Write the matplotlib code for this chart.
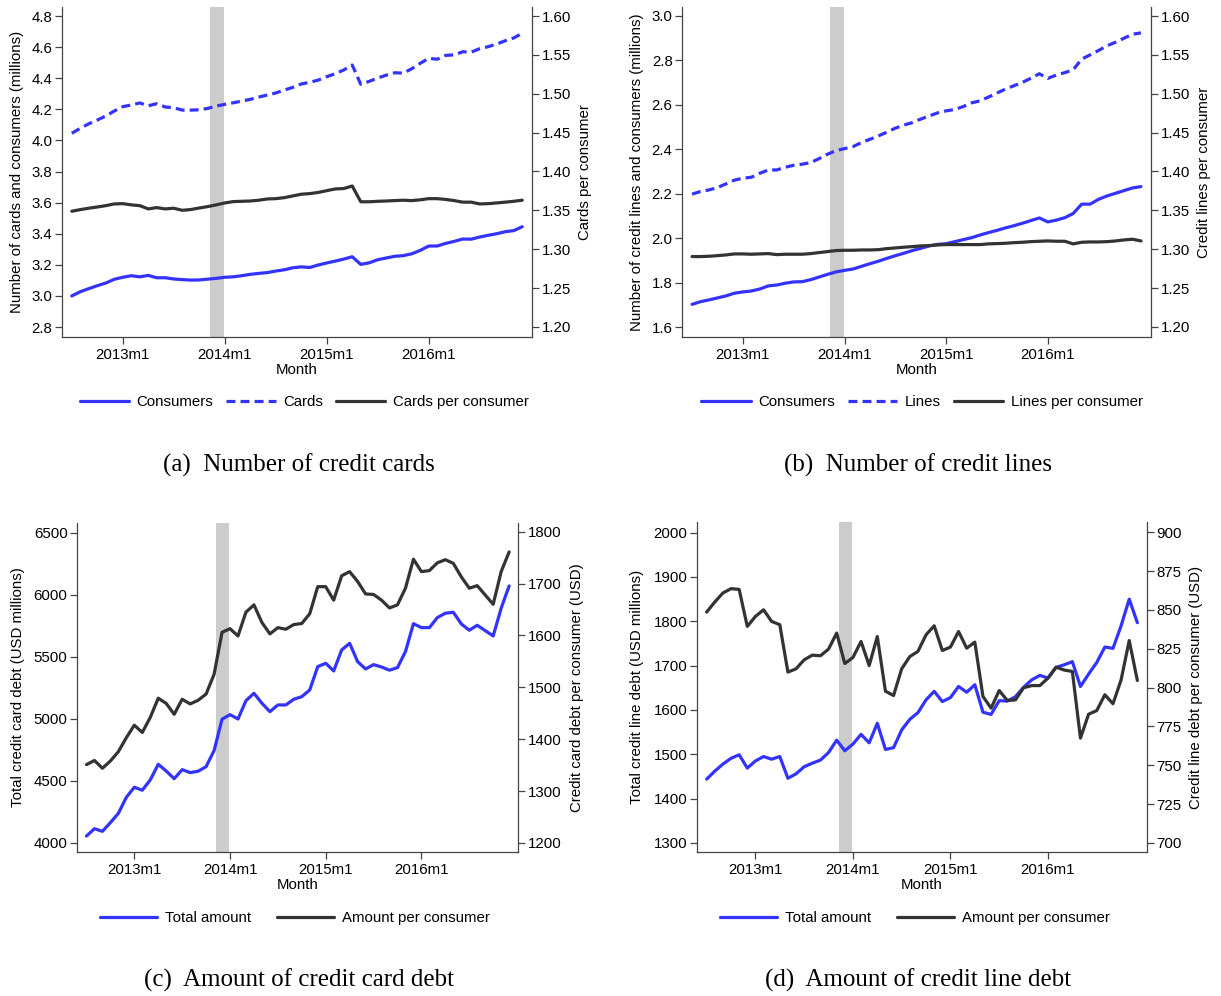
import numpy as np
import matplotlib
matplotlib.use("Agg")
import matplotlib.pyplot as plt
from matplotlib.lines import Line2D

# ---------------- data (monthly, 2012m7 .. 2016m12) ----------------
months = np.arange(54)  # 0 = 2012m7
xtick_pos = [6, 18, 30, 42]
xtick_labels = ["2013m1", "2014m1", "2015m1", "2016m1"]
event_span = (16.25, 17.9)

a_consumers = [3.000, 3.027, 3.047, 3.066, 3.083, 3.107, 3.120, 3.130, 3.123, 3.132,
               3.117, 3.117, 3.109, 3.105, 3.102, 3.103, 3.108, 3.113, 3.120, 3.123,
               3.130, 3.139, 3.145, 3.150, 3.160, 3.168, 3.181, 3.187, 3.183, 3.199,
               3.212, 3.224, 3.237, 3.252, 3.203, 3.213, 3.233, 3.244, 3.255, 3.259,
               3.271, 3.293, 3.321, 3.321, 3.338, 3.351, 3.366, 3.365, 3.379, 3.390,
               3.400, 3.413, 3.420, 3.445]
a_cards = [4.046, 4.078, 4.107, 4.131, 4.157, 4.189, 4.217, 4.228, 4.241, 4.223,
           4.236, 4.215, 4.210, 4.195, 4.195, 4.197, 4.206, 4.221, 4.232, 4.242,
           4.253, 4.264, 4.279, 4.292, 4.305, 4.324, 4.341, 4.363, 4.374, 4.388,
           4.410, 4.429, 4.453, 4.485, 4.361, 4.380, 4.401, 4.420, 4.435, 4.433,
           4.461, 4.496, 4.528, 4.522, 4.547, 4.550, 4.570, 4.568, 4.590, 4.603,
           4.620, 4.641, 4.659, 4.689]
a_per = [1.3488, 1.3509, 1.3527, 1.3543, 1.3560, 1.3582, 1.3586, 1.3570, 1.3560, 1.3518,
         1.3535, 1.3518, 1.3527, 1.3500, 1.3510, 1.3530, 1.3548, 1.3570, 1.3595, 1.3612,
         1.3616, 1.3620, 1.3630, 1.3646, 1.3650, 1.3663, 1.3685, 1.3707, 1.3715, 1.3730,
         1.3753, 1.3775, 1.3780, 1.3813, 1.3610, 1.3610, 1.3616, 1.3620, 1.3625, 1.3630,
         1.3625, 1.3635, 1.3650, 1.3650, 1.3640, 1.3625, 1.3605, 1.3605, 1.3582, 1.3586,
         1.3595, 1.3605, 1.3616, 1.3630]

b_consumers = [1.702, 1.714, 1.722, 1.731, 1.740, 1.752, 1.758, 1.762, 1.771, 1.785,
               1.789, 1.797, 1.803, 1.804, 1.813, 1.825, 1.837, 1.848, 1.855, 1.861,
               1.873, 1.885, 1.896, 1.909, 1.921, 1.932, 1.944, 1.954, 1.965, 1.972,
               1.975, 1.984, 1.993, 2.002, 2.014, 2.025, 2.035, 2.046, 2.056, 2.067,
               2.079, 2.091, 2.073, 2.081, 2.092, 2.111, 2.153, 2.153, 2.175, 2.190,
               2.202, 2.214, 2.226, 2.232]
b_lines = [2.198, 2.210, 2.217, 2.228, 2.244, 2.261, 2.270, 2.274, 2.292, 2.307,
           2.307, 2.319, 2.328, 2.333, 2.340, 2.358, 2.378, 2.394, 2.403, 2.412,
           2.430, 2.445, 2.460, 2.477, 2.495, 2.509, 2.520, 2.536, 2.550, 2.564,
           2.573, 2.579, 2.592, 2.609, 2.618, 2.635, 2.653, 2.671, 2.686, 2.701,
           2.720, 2.740, 2.719, 2.734, 2.745, 2.758, 2.806, 2.825, 2.845, 2.866,
           2.882, 2.900, 2.918, 2.924]
b_per = [1.2905, 1.2905, 1.2909, 1.2917, 1.2926, 1.2939, 1.2939, 1.2935, 1.2939, 1.2943,
         1.2930, 1.2935, 1.2935, 1.2935, 1.2943, 1.2956, 1.2969, 1.2982, 1.2986, 1.2986,
         1.2990, 1.2990, 1.2994, 1.3007, 1.3016, 1.3025, 1.3033, 1.3042, 1.3046, 1.3055,
         1.3059, 1.3059, 1.3059, 1.3059, 1.3059, 1.3068, 1.3072, 1.3076, 1.3084, 1.3089,
         1.3097, 1.3102, 1.3106, 1.3102, 1.3102, 1.3068, 1.3089, 1.3093, 1.3093, 1.3097,
         1.3106, 1.3119, 1.3128, 1.3106]

c_total = [4056, 4115, 4094, 4164, 4239, 4368, 4449, 4425, 4508, 4634,
           4580, 4518, 4591, 4567, 4578, 4615, 4744, 4997, 5034, 4999,
           5147, 5206, 5126, 5058, 5112, 5112, 5158, 5179, 5233, 5421,
           5448, 5386, 5555, 5609, 5461, 5402, 5437, 5418, 5392, 5413,
           5542, 5767, 5735, 5735, 5816, 5851, 5859, 5765, 5714, 5754,
           5711, 5668, 5891, 6071]
c_per = [1351, 1359, 1344, 1358, 1376, 1403, 1427, 1413, 1442, 1479,
         1469, 1448, 1477, 1468, 1475, 1487, 1525, 1606, 1613, 1599,
         1645, 1659, 1625, 1603, 1615, 1612, 1621, 1623, 1642, 1694,
         1694, 1668, 1715, 1723, 1704, 1680, 1679, 1668, 1653, 1659,
         1691, 1747, 1723, 1725, 1740, 1746, 1739, 1713, 1691, 1696,
         1678, 1660, 1723, 1761]

d_total = [1444, 1462, 1478, 1491, 1499, 1469, 1485, 1495, 1489, 1495,
           1446, 1456, 1472, 1480, 1487, 1504, 1532, 1508, 1523, 1545,
           1526, 1570, 1511, 1515, 1555, 1579, 1594, 1623, 1642, 1619,
           1628, 1653, 1640, 1657, 1595, 1590, 1621, 1620, 1630, 1651,
           1668, 1678, 1672, 1696, 1702, 1709, 1653, 1681, 1707, 1742,
           1739, 1790, 1850, 1797]
d_per = [848.6, 855.1, 860.9, 863.7, 863.2, 839.4, 845.8, 850.1, 842.6, 840.5,
         810.0, 812.1, 817.9, 820.9, 820.5, 824.8, 835.1, 815.5, 819.4, 829.7,
         814.2, 832.9, 797.7, 794.9, 812.1, 820.0, 823.3, 834.0, 839.8, 823.9,
         826.1, 836.1, 825.4, 829.3, 794.3, 786.8, 798.1, 791.7, 792.1, 799.9,
         801.3, 801.3, 806.1, 813.2, 811.3, 810.4, 767.5, 782.9, 785.2, 795.4,
         789.6, 805.0, 830.3, 804.6]

# ---------------- style ----------------
W, H = 1221, 996
BLUE = "#3333ff"
DARK = "#333333"
BAND = "#cccccc"
AXC = "#444444"
LW = 2.3
DASH = (2.8, 1.6)
FS = 10.8
plt.rcParams["font.family"] = ["Liberation Sans", "DejaVu Sans"]

fig = plt.figure(figsize=(W / 100, H / 100), dpi=100)


def fx(px):
    return px / W


def fy(py):
    return 1 - py / H


def make_panel(left, right, top, bottom, ylim_l, yt_l, fmt_l, ylim_r, yt_r, fmt_r,
               lab_l, lab_l_x, lab_r, lab_r_x, series_l, series_r):
    ax = fig.add_axes([fx(left), fy(bottom), fx(right - left), (bottom - top) / H])
    ax2 = ax.twinx()
    ax.axvspan(*event_span, color=BAND, lw=0, zorder=0)
    handles = []
    for vals, dashed, label in series_l:
        if dashed:
            ln, = ax.plot(months, vals, color=BLUE, lw=LW, dashes=DASH, label=label)
        else:
            ln, = ax.plot(months, vals, color=BLUE, lw=LW, solid_capstyle="round",
                          label=label)
        handles.append(ln)
    for vals, label in series_r:
        ln, = ax2.plot(months, vals, color=DARK, lw=LW, solid_capstyle="round",
                       label=label)
        handles.append(ln)
    ax.set_xlim(-1.15, 54.15)
    ax.set_ylim(*ylim_l)
    ax2.set_ylim(*ylim_r)
    ax.set_xticks(xtick_pos)
    ax.set_xticklabels(xtick_labels)
    ax.set_yticks(yt_l)
    ax.set_yticklabels([fmt_l.format(v) for v in yt_l])
    ax2.set_yticks(yt_r)
    ax2.set_yticklabels([fmt_r.format(v) for v in yt_r])
    for a in (ax, ax2):
        a.spines["top"].set_visible(False)
        for s in a.spines.values():
            s.set_color(AXC)
            s.set_linewidth(0.9)
        a.tick_params(direction="out", length=5, width=0.9, color=AXC,
                      labelsize=FS, labelcolor="black")
    ax.tick_params(axis="x", pad=3)
    ax.tick_params(axis="y", pad=2)
    ax2.tick_params(axis="y", pad=2)
    ax2.spines["left"].set_visible(False)
    ax2.spines["bottom"].set_visible(False)
    ax.spines["right"].set_visible(False)
    cy = (top + bottom) / 2
    fig.text(fx(lab_l_x), fy(cy), lab_l, rotation=90, ha="center", va="center",
             fontsize=FS)
    fig.text(fx(lab_r_x), fy(cy), lab_r, rotation=90, ha="center", va="center",
             fontsize=FS)
    fig.text(fx((left + right) / 2), fy(bottom + 33), "Month", ha="center",
             va="center", fontsize=FS)
    return handles


# (a)
h_a = make_panel(62, 532, 7, 337, (2.736, 4.858), np.arange(2.8, 4.81, 0.2), "{:.1f}",
                 (1.187, 1.6116), np.arange(1.20, 1.601, 0.05), "{:.2f}",
                 "Number of cards and consumers (millions)", 17,
                 "Cards per consumer", 585,
                 [(a_consumers, False, "Consumers"), (a_cards, True, "Cards")],
                 [(a_per, "Cards per consumer")])
# (b)
h_b = make_panel(682.3, 1150.7, 7, 337, (1.555, 3.0405), np.arange(1.6, 3.01, 0.2), "{:.1f}",
                 (1.187, 1.6116), np.arange(1.20, 1.601, 0.05), "{:.2f}",
                 "Number of credit lines and consumers (millions)", 637,
                 "Credit lines per consumer", 1204,
                 [(b_consumers, False, "Consumers"), (b_lines, True, "Lines")],
                 [(b_per, "Lines per consumer")])
# (c)
h_c = make_panel(77.3, 518.3, 522.5, 852.3, (3925, 6582), np.arange(4000, 6501, 500), "{:.0f}",
                 (1182, 1817.7), np.arange(1200, 1801, 100), "{:.0f}",
                 "Total credit card debt (USD millions)", 18,
                 "Credit card debt per consumer (USD)", 577,
                 [(c_total, False, "Total amount")],
                 [(c_per, "Amount per consumer")])
# (d)
h_d = make_panel(697.3, 1146.7, 522, 852.3, (1279, 2024), np.arange(1300, 2001, 100), "{:.0f}",
                 (694, 906.6), np.arange(700, 901, 25), "{:.0f}",
                 "Total credit line debt (USD millions)", 637,
                 "Credit line debt per consumer (USD)", 1196,
                 [(d_total, False, "Total amount")],
                 [(d_per, "Amount per consumer")])


def legend(handles, cx, cy, hl, cs):
    fig.legend(handles, [h.get_label() for h in handles], loc="center",
               bbox_to_anchor=(fx(cx), fy(cy)), ncol=len(handles), frameon=False,
               fontsize=FS, handlelength=hl, handletextpad=0.5, columnspacing=cs,
               borderpad=0, borderaxespad=0)


legend(h_a, 304, 402, 3.3, 0.85)
legend(h_b, 922, 402, 3.3, 0.85)
legend(h_c, 295, 918, 3.8, 1.75)
legend(h_d, 915, 918, 3.8, 1.75)

CAP = dict(ha="center", va="center", fontsize=18,
           family=["Liberation Serif", "DejaVu Serif"])
fig.text(fx(299), fy(465), "(a)  Number of credit cards", **CAP)
fig.text(fx(918), fy(465), "(b)  Number of credit lines", **CAP)
fig.text(fx(299), fy(980), "(c)  Amount of credit card debt", **CAP)
fig.text(fx(918), fy(980), "(d)  Amount of credit line debt", **CAP)

fig.savefig("out.png", dpi=100)
